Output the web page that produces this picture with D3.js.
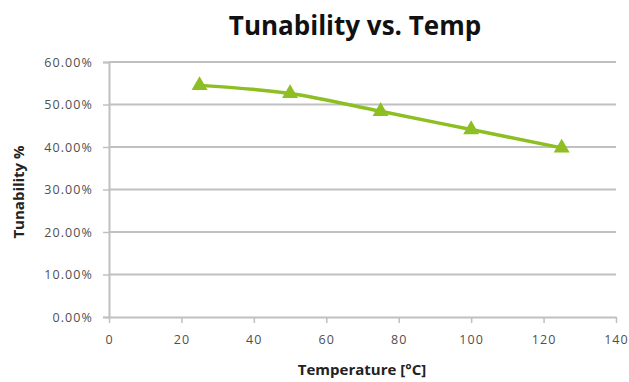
<!DOCTYPE html>
<html>
<head>
<meta charset="utf-8">
<script src="https://cdn.jsdelivr.net/npm/d3@7"></script>
<style>
  body { margin: 0; background: #fff; }
  svg text { font-family: "Open Sans", "DejaVu Sans", sans-serif; }
</style>
</head>
<body>
<svg width="629" height="382"></svg>
<script>
var temps = [25, 50, 75, 100, 125];
var tunability = [0.545, 0.526, 0.484, 0.441, 0.398];
var xTicks = [0, 20, 40, 60, 80, 100, 120, 140];
var yTicks = [0, 0.1, 0.2, 0.3, 0.4, 0.5, 0.6];

var svg = d3.select("svg"),
    width = +svg.attr("width"),
    height = +svg.attr("height");

var x = d3.scaleLinear().domain([0, 140]).range([109, 616]);
var y = d3.scaleLinear().domain([0, 0.6]).range([317, 62]);

// gridlines
svg.append("g")
    .selectAll("line")
    .data(yTicks.slice(1))
    .enter().append("line")
      .attr("x1", x(0)).attr("x2", x(140))
      .attr("y1", d => y(d)).attr("y2", d => y(d))
      .attr("stroke", "#c0c0c0").attr("stroke-width", 2);

var yAxis = svg.append("g")
    .attr("transform", "translate(" + x(0) + ",0)")
    .call(d3.axisLeft(y).tickValues(yTicks).tickSize(6).tickPadding(10)
      .tickFormat(d3.format(".2%")));
yAxis.select(".domain").attr("stroke", "#c0c0c0").attr("stroke-width", 2);
yAxis.selectAll(".tick line").attr("stroke", "#c0c0c0").attr("stroke-width", 1.5);
yAxis.selectAll("text").attr("fill", "#4f4f4f").attr("font-size", 12.5)
    .attr("letter-spacing", 1.1);

var xAxis = svg.append("g")
    .attr("transform", "translate(0," + y(0) + ")")
    .call(d3.axisBottom(x).tickValues(xTicks).tickSize(6).tickPadding(12)
      .tickSizeOuter(0));
xAxis.select(".domain").attr("stroke", "#c0c0c0").attr("stroke-width", 2);
xAxis.selectAll(".tick line").attr("stroke", "#c0c0c0").attr("stroke-width", 1.5);
xAxis.selectAll("text").attr("fill", "#4f4f4f").attr("font-size", 12.5)
    .attr("letter-spacing", 1.1);

var pts = temps.map((t, i) => [t, tunability[i]]);

svg.append("path")
    .datum(pts)
    .attr("fill", "none")
    .attr("stroke", "#8dbe22")
    .attr("stroke-width", 3.5)
    .attr("d", d3.line()
      .x(d => x(d[0])).y(d => y(d[1]))
      .curve(d3.curveCatmullRom.alpha(0.5)));

svg.append("g")
    .selectAll("path")
    .data(pts)
    .enter().append("path")
      .attr("transform", d => "translate(" + x(d[0]) + "," + y(d[1]) + ")")
      .attr("d", d3.symbol().type(d3.symbolTriangle).size(110))
      .attr("fill", "#8dbe22");

svg.append("text")
    .attr("x", 355).attr("y", 35)
    .attr("text-anchor", "middle")
    .attr("font-size", 26).attr("font-weight", "bold")
    .attr("fill", "#111")
    .text("Tunability vs. Temp");

svg.append("text")
    .attr("x", 362).attr("y", 375)
    .attr("text-anchor", "middle")
    .attr("font-size", 15).attr("font-weight", "bold")
    .attr("fill", "#222")
    .text("Temperature [\u00b0C]");

svg.append("text")
    .attr("transform", "translate(24,192) rotate(-90)")
    .attr("text-anchor", "middle")
    .attr("font-size", 15).attr("font-weight", "bold")
    .attr("fill", "#222")
    .text("Tunability %");
</script>
</body>
</html>
